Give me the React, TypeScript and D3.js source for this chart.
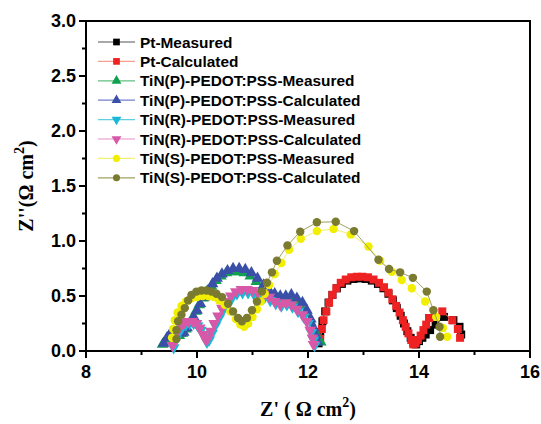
import React, { useEffect, useRef } from 'react'
import * as d3 from 'd3'

// Pt (squares)
const ptMeasX = [12.19, 12.22, 12.26, 12.31, 12.37, 12.44, 12.52, 12.61, 12.71, 12.82, 12.93, 13.04, 13.15, 13.26, 13.36, 13.45, 13.53, 13.6, 13.67, 13.73, 13.79, 13.85, 13.9, 13.95, 14.0, 14.06, 14.12, 14.2, 14.3, 14.45, 14.62, 14.73, 14.76]
const ptMeasY = [0.07, 0.17, 0.27, 0.36, 0.44, 0.51, 0.57, 0.61, 0.64, 0.655, 0.66, 0.655, 0.64, 0.61, 0.57, 0.52, 0.46, 0.39, 0.32, 0.25, 0.18, 0.12, 0.07, 0.06, 0.09, 0.12, 0.15, 0.19, 0.24, 0.31, 0.28, 0.22, 0.15]
const ptCalcX = [12.22, 12.25, 12.28, 12.33, 12.38, 12.44, 12.51, 12.59, 12.68, 12.78, 12.88, 12.98, 13.08, 13.18, 13.28, 13.37, 13.45, 13.52, 13.59, 13.65, 13.71, 13.76, 13.81, 13.86, 13.9, 13.94, 13.98, 14.03, 14.08, 14.13, 14.18, 14.42, 14.6, 14.7, 14.74]
const ptCalcY = [0.11, 0.2, 0.28, 0.36, 0.44, 0.51, 0.57, 0.62, 0.65, 0.67, 0.675, 0.675, 0.67, 0.65, 0.62, 0.58, 0.53, 0.47, 0.41, 0.35, 0.28, 0.22, 0.16, 0.1, 0.06, 0.07, 0.1, 0.14, 0.19, 0.24, 0.3, 0.36, 0.28, 0.2, 0.12]

// TiN(P) (up triangles)
const pMeasX = [9.38, 9.44, 9.5, 9.56, 9.62, 9.68, 9.74, 9.8, 9.86, 9.92, 9.98, 10.04, 10.11, 10.18, 10.26, 10.34, 10.43, 10.53, 10.63, 10.74, 10.85, 10.96, 11.07, 11.18, 11.28, 11.38, 11.48, 11.58, 11.68, 11.78, 11.88, 11.97, 12.05, 12.12, 12.18, 12.23]
const pMeasY = [0.06, 0.1, 0.14, 0.16, 0.15, 0.14, 0.16, 0.2, 0.25, 0.3, 0.36, 0.42, 0.48, 0.54, 0.59, 0.64, 0.68, 0.71, 0.72, 0.72, 0.71, 0.68, 0.63, 0.58, 0.53, 0.5, 0.48, 0.47, 0.46, 0.45, 0.41, 0.34, 0.26, 0.18, 0.12, 0.08]
const pCalcX = [9.4, 9.46, 9.52, 9.58, 9.64, 9.7, 9.76, 9.82, 9.88, 9.94, 10.0, 10.06, 10.13, 10.2, 10.28, 10.36, 10.45, 10.55, 10.65, 10.76, 10.87, 10.98, 11.09, 11.2, 11.3, 11.4, 11.5, 11.6, 11.7, 11.8, 11.9, 11.98, 12.05, 12.1, 12.14, 12.17]
const pCalcY = [0.07, 0.12, 0.16, 0.18, 0.17, 0.16, 0.17, 0.21, 0.26, 0.31, 0.37, 0.43, 0.49, 0.55, 0.61, 0.66, 0.7, 0.73, 0.75, 0.75, 0.74, 0.71, 0.66, 0.6, 0.55, 0.52, 0.5, 0.5, 0.51, 0.48, 0.44, 0.37, 0.29, 0.21, 0.14, 0.08]

// TiN(R) (down triangles)
const rMeasX = [9.58, 9.62, 9.67, 9.73, 9.8, 9.87, 9.94, 10.01, 10.07, 10.13, 10.18, 10.22, 10.27, 10.33, 10.4, 10.47, 10.55, 10.63, 10.72, 10.82, 10.92, 11.02, 11.12, 11.22, 11.32, 11.42, 11.52, 11.62, 11.72, 11.82, 11.92, 12.0, 12.06, 12.1, 12.12]
const rMeasY = [0.03, 0.1, 0.16, 0.21, 0.24, 0.25, 0.25, 0.23, 0.19, 0.13, 0.08, 0.1, 0.16, 0.23, 0.3, 0.37, 0.43, 0.48, 0.52, 0.53, 0.53, 0.52, 0.5, 0.49, 0.46, 0.43, 0.41, 0.42, 0.4, 0.36, 0.31, 0.25, 0.17, 0.1, 0.05]
const rCalcX = [9.56, 9.6, 9.65, 9.71, 9.78, 9.85, 9.92, 9.99, 10.05, 10.11, 10.16, 10.2, 10.25, 10.31, 10.38, 10.45, 10.53, 10.61, 10.7, 10.8, 10.9, 11.0, 11.1, 11.2, 11.3, 11.4, 11.5, 11.6, 11.7, 11.8, 11.9, 11.98, 12.04, 12.08, 12.1]
const rCalcY = [0.05, 0.12, 0.18, 0.23, 0.26, 0.27, 0.27, 0.25, 0.21, 0.15, 0.1, 0.12, 0.18, 0.25, 0.32, 0.39, 0.45, 0.5, 0.54, 0.56, 0.56, 0.55, 0.53, 0.52, 0.49, 0.45, 0.42, 0.44, 0.42, 0.38, 0.33, 0.27, 0.19, 0.12, 0.06]

// TiN(S) (circles)
const sMeasX = [9.55, 9.57, 9.6, 9.65, 9.72, 9.8, 9.9, 10.0, 10.1, 10.2, 10.3, 10.4, 10.5, 10.6, 10.7, 10.78, 10.85, 10.92, 11.0, 11.08, 11.15, 11.22, 11.3, 11.4, 11.52, 11.66, 11.87, 12.16, 12.46, 12.77, 13.09, 13.3, 13.51, 13.69, 13.87, 14.11, 14.31, 14.43, 14.51]
const sMeasY = [0.12, 0.2, 0.28, 0.35, 0.41, 0.45, 0.48, 0.49, 0.5, 0.5, 0.49, 0.46, 0.42, 0.36, 0.29, 0.24, 0.22, 0.25, 0.31, 0.38, 0.45, 0.52, 0.6, 0.7, 0.8, 0.92, 1.02, 1.09, 1.11, 1.06, 0.95, 0.82, 0.72, 0.645, 0.57, 0.45, 0.31, 0.21, 0.13]
const sCalcX = [9.63, 9.63, 9.66, 9.72, 9.78, 9.84, 9.9, 9.99, 10.08, 10.17, 10.26, 10.35, 10.45, 10.56, 10.65, 10.74, 10.81, 10.9, 10.99, 11.08, 11.17, 11.26, 11.35, 11.44, 11.63, 11.86, 12.16, 12.5, 12.83, 13.27, 13.46, 13.66, 13.89, 14.14, 14.26, 14.37, 14.38]
const sCalcY = [0.11, 0.19, 0.27, 0.33, 0.39, 0.46, 0.51, 0.54, 0.55, 0.55, 0.54, 0.52, 0.49, 0.43, 0.36, 0.3, 0.27, 0.3, 0.37, 0.45, 0.54, 0.62, 0.715, 0.82, 0.96, 1.085, 1.17, 1.175, 1.09, 0.83, 0.745, 0.715, 0.665, 0.54, 0.37, 0.22, 0.13]

const seriesNames = [
  'Pt-Measured', 'Pt-Calculated',
  'TiN(P)-PEDOT:PSS-Measured', 'TiN(P)-PEDOT:PSS-Calculated',
  'TiN(R)-PEDOT:PSS-Measured', 'TiN(R)-PEDOT:PSS-Calculated',
  'TiN(S)-PEDOT:PSS-Measured', 'TiN(S)-PEDOT:PSS-Calculated'
]
const xTicks = [8, 10, 12, 14, 16]
const yTicks = [0, 0.5, 1, 1.5, 2, 2.5, 3]

export default function App() {
  const ref = useRef<SVGSVGElement>(null)

  useEffect(() => {
    const W = 541, H = 424
    const margin = { top: 21, left: 86, right: 11, bottom: 73 }
    const svg = d3.select(ref.current)
    svg.selectAll('*').remove()

    const x = d3.scaleLinear().domain([8, 16]).range([margin.left, W - margin.right])
    const y = d3.scaleLinear().domain([0, 3]).range([H - margin.bottom, margin.top])

    const series = [
      { xs: ptMeasX, ys: ptMeasY, shape: d3.symbolSquare, size: 64, rot: 0, fill: '#000000', line: '#555555' },
      { xs: ptCalcX, ys: ptCalcY, shape: d3.symbolSquare, size: 64, rot: 0, fill: '#ee2222', line: '#f4a090' },
      { xs: pMeasX, ys: pMeasY, shape: d3.symbolTriangle, size: 60, rot: 0, fill: '#10a050', line: '#60c080' },
      { xs: pCalcX, ys: pCalcY, shape: d3.symbolTriangle, size: 60, rot: 0, fill: '#3a50a8', line: '#7080c8' },
      { xs: rMeasX, ys: rMeasY, shape: d3.symbolTriangle, size: 60, rot: 180, fill: '#18b8d8', line: '#60d0e0' },
      { xs: rCalcX, ys: rCalcY, shape: d3.symbolTriangle, size: 60, rot: 180, fill: '#d858a8', line: '#e890c8' },
      { xs: sMeasX, ys: sMeasY, shape: d3.symbolCircle, size: 56, rot: 0, fill: '#f2ee00', line: '#f4f070' },
      { xs: sCalcX, ys: sCalcY, shape: d3.symbolCircle, size: 56, rot: 0, fill: '#7a7a30', line: '#a0a060' }
    ]

    // frame
    svg.append('rect')
      .attr('x', x(8)).attr('y', y(3))
      .attr('width', x(16) - x(8)).attr('height', y(0) - y(3))
      .attr('fill', 'none').attr('stroke', '#000').attr('stroke-width', 2)

    // ticks, major and minor
    svg.append('g').selectAll('line').data(d3.range(8, 16.01, 1)).enter().append('line')
      .attr('x1', d => x(d)).attr('x2', d => x(d))
      .attr('y1', y(0)).attr('y2', d => y(0) + (d % 2 === 0 ? 7 : 4))
      .attr('stroke', '#000').attr('stroke-width', 2)
    svg.append('g').selectAll('line').data(d3.range(0, 3.01, 0.25)).enter().append('line')
      .attr('y1', d => y(d)).attr('y2', d => y(d))
      .attr('x1', x(8)).attr('x2', d => x(8) - (Math.abs(d * 2 - Math.round(d * 2)) < 0.01 ? 7 : 4))
      .attr('stroke', '#000').attr('stroke-width', 2)

    svg.append('g').selectAll('text').data(xTicks).enter().append('text')
      .attr('x', d => x(d)).attr('y', y(0) + 27)
      .attr('text-anchor', 'middle')
      .style('font', 'bold 18px "Liberation Sans", Arial, sans-serif')
      .text(d => d)
    svg.append('g').selectAll('text').data(yTicks).enter().append('text')
      .attr('x', x(8) - 10).attr('y', d => y(d)).attr('dy', '0.36em')
      .attr('text-anchor', 'end')
      .style('font', 'bold 18px "Liberation Sans", Arial, sans-serif')
      .text(d => d.toFixed(1))

    // axis titles
    const xt = svg.append('text')
      .attr('x', (x(8) + x(16)) / 2).attr('y', 416)
      .attr('text-anchor', 'middle')
      .style('font', 'bold 20px "Liberation Serif", "Times New Roman", serif')
    xt.append('tspan').text("Z' ( \u03A9 cm")
    xt.append('tspan').attr('dy', -9).style('font-size', '14px').text('2')
    xt.append('tspan').attr('dy', 9).text(')')

    const yt = svg.append('text')
      .attr('transform', `translate(33,${(y(0) + y(3)) / 2}) rotate(-90)`)
      .attr('text-anchor', 'middle')
      .style('font', 'bold 20px "Liberation Serif", "Times New Roman", serif')
    yt.append('tspan').text("Z''(\u03A9 cm")
    yt.append('tspan').attr('dy', -9).style('font-size', '14px').text('2')
    yt.append('tspan').attr('dy', 9).text(')')

    // data: thin connecting line + markers
    const line = d3.line<[number, number]>().x(d => x(d[0])).y(d => y(d[1]))
    series.forEach(s => {
      const pts: [number, number][] = s.xs.map((v, i) => [v, s.ys[i]])
      const g = svg.append('g')
      g.append('path').attr('d', line(pts)).attr('fill', 'none')
        .attr('stroke', s.line).attr('stroke-width', 1)
      g.selectAll('path.m').data(pts).enter().append('path')
        .attr('class', 'm')
        .attr('d', d3.symbol().type(s.shape).size(s.size)())
        .attr('transform', d => `translate(${x(d[0])},${y(d[1])}) rotate(${s.rot})`)
        .attr('fill', s.fill)
    })

    // legend
    const lg = svg.append('g')
    series.forEach((s, i) => {
      const ly = 42 + i * 19.4
      lg.append('line').attr('x1', 98).attr('x2', 135).attr('y1', ly).attr('y2', ly)
        .attr('stroke', s.line).attr('stroke-width', 1.2)
      lg.append('path')
        .attr('d', d3.symbol().type(s.shape).size(s.size * 0.7)())
        .attr('transform', `translate(116.5,${ly}) rotate(${s.rot})`)
        .attr('fill', s.fill)
      lg.append('text').attr('x', 140).attr('y', ly).attr('dy', '0.36em')
        .style('font', 'bold 15.4px "Liberation Sans", Arial, sans-serif')
        .text(seriesNames[i])
    })
  }, [])

  return (
    <svg ref={ref} width={541} height={424}
      style={{ position: 'absolute', left: 0, top: 0, background: '#fff' }} />
  )
}
